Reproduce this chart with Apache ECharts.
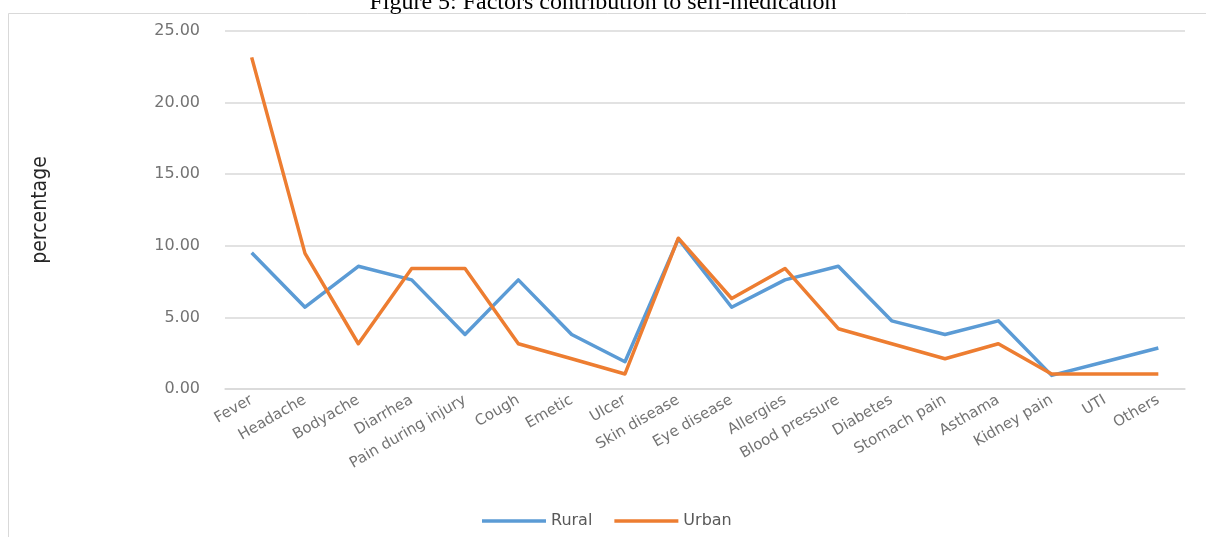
<!DOCTYPE html>
<html>
<head>
<meta charset="utf-8">
<script src="https://cdn.jsdelivr.net/npm/echarts@6/dist/echarts.min.js"></script>
<style>
  html, body { margin: 0; padding: 0; background: #ffffff; }
  #chart { width: 1206px; height: 537px; }
</style>
</head>
<body>
<div id="chart"></div>
<script>
// Conditions reported as reasons for self-medication
const categories = [
  'Fever', 'Headache', 'Bodyache', 'Diarrhea', 'Pain during injury', 'Cough',
  'Emetic', 'Ulcer', 'Skin disease', 'Eye disease', 'Allergies', 'Blood pressure',
  'Diabetes', 'Stomach pain', 'Asthama', 'Kidney pain', 'UTI', 'Others'
];

// Percentage of respondents per condition
const rural = [9.52, 5.71, 8.57, 7.62, 3.81, 7.62, 3.81, 1.90, 10.48, 5.71, 7.62, 8.57, 4.76, 3.81, 4.76, 0.95, 1.90, 2.86];
const urban = [23.16, 9.47, 3.16, 8.42, 8.42, 3.16, 2.11, 1.05, 10.53, 6.32, 8.42, 4.21, 3.16, 2.11, 3.16, 1.05, 1.05, 1.05];

const seriesNames = ['Rural', 'Urban'];
const yTicks = { min: 0, max: 25, step: 5 };

const chart = echarts.init(document.getElementById('chart'), null, { renderer: 'canvas' });

const labelGray = '#737373';
const gridGray = '#d9d9d9';

chart.setOption({
  animation: false,
  backgroundColor: '#ffffff',
  title: {
    text: 'Figure 5: Factors contribution to self-medication',
    left: 'center',
    top: -14,
    textStyle: {
      fontFamily: '"Liberation Serif", "Times New Roman", serif',
      fontSize: 24,
      fontWeight: 'normal',
      color: '#000000'
    }
  },
  graphic: [{
    type: 'polyline',
    silent: true,
    shape: { points: [[8.5, 537], [8.5, 13.5], [1206, 13.5]] },
    style: { stroke: gridGray, lineWidth: 1, fill: null }
  }],
  legend: {
    data: seriesNames,
    left: 477,
    top: 508,
    icon: 'rect',
    itemWidth: 64,
    itemHeight: 3.5,
    itemGap: 22,
    textStyle: {
      fontFamily: '"DejaVu Sans", sans-serif',
      fontSize: 16,
      color: '#595959'
    }
  },
  grid: {
    left: 225,
    right: 21,
    top: 31,
    bottom: 148
  },
  xAxis: {
    type: 'category',
    data: categories,
    boundaryGap: true,
    axisLine: { show: true, lineStyle: { color: gridGray, width: 1.5 } },
    axisTick: { show: false },
    axisLabel: {
      rotate: 30,
      margin: 10,
      interval: 0,
      fontFamily: '"DejaVu Sans", sans-serif',
      fontSize: 15,
      color: labelGray
    }
  },
  yAxis: {
    type: 'value',
    min: yTicks.min,
    max: yTicks.max,
    interval: yTicks.step,
    name: 'percentage',
    nameLocation: 'middle',
    nameRotate: 90,
    nameGap: 174,
    nameTextStyle: {
      fontFamily: '"Liberation Sans Narrow", "DejaVu Sans Condensed", sans-serif',
      fontSize: 21,
      color: '#262626'
    },
    axisLine: { show: false },
    axisTick: { show: false },
    axisLabel: {
      margin: 25,
      formatter: v => v.toFixed(2),
      fontFamily: '"DejaVu Sans", sans-serif',
      fontSize: 16,
      color: labelGray
    },
    splitLine: { lineStyle: { color: gridGray, width: 1.5 } }
  },
  series: [
    {
      name: seriesNames[0],
      type: 'line',
      data: rural,
      symbol: 'none',
      lineStyle: { color: '#5b9bd5', width: 3.5, join: 'round' },
      itemStyle: { color: '#5b9bd5' }
    },
    {
      name: seriesNames[1],
      type: 'line',
      data: urban,
      symbol: 'none',
      lineStyle: { color: '#ed7d31', width: 3.5, join: 'round' },
      itemStyle: { color: '#ed7d31' }
    }
  ]
});
</script>
</body>
</html>
